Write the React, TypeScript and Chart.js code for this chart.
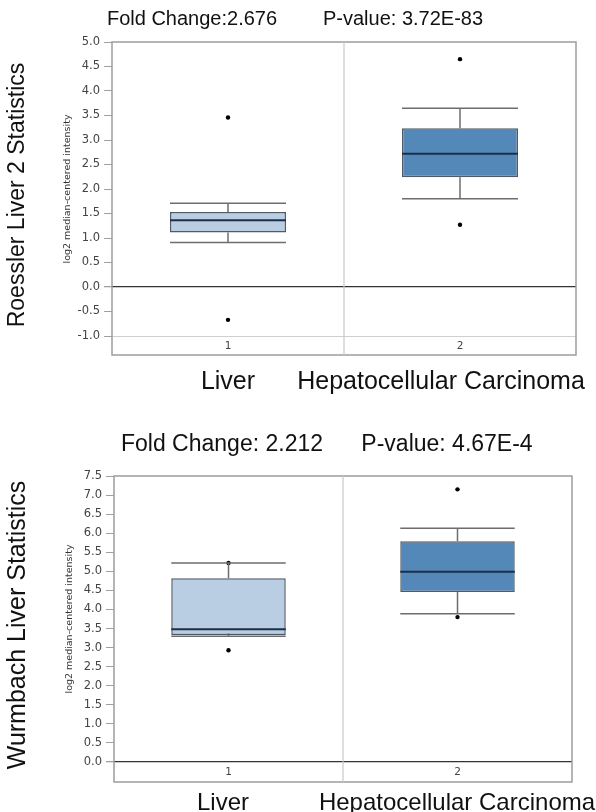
import React, { useEffect, useRef } from 'react';
import { Chart, registerables } from 'chart.js';

Chart.register(...registerables);

// ---------- shared ----------
const categories = ['1', '2'];
const groupNames = ['Liver', 'Hepatocellular Carcinoma'];
const boxFill = ['#b9cde3', '#5488b9'];

// ---------- Roessler Liver 2 ----------
const rSide = 'Roessler Liver 2 Statistics';
const rFold = 'Fold Change:2.676';
const rPval = 'P-value: 3.72E-83';
const rQ1 = [1.11, 2.24];
const rQ3 = [1.53, 3.24];
const rMedian = [1.36, 2.72];
const rWhiskerLow = [0.91, 1.8];
const rWhiskerHigh = [1.71, 3.65];
const rOutlierHigh = [3.46, 4.65];
const rOutlierLow = [-0.67, 1.27];
const rExtra: (number | null)[] = [null, null];
const rYMin = -1.0;
const rYMax = 5.0;

// ---------- Wurmbach Liver ----------
const wSide = 'Wurmbach Liver Statistics';
const wFold = 'Fold Change: 2.212';
const wPval = 'P-value: 4.67E-4';
const wQ1 = [3.33, 4.46];
const wQ3 = [4.82, 5.79];
const wMedian = [3.48, 4.99];
const wWhiskerLow = [3.3, 3.89];
const wWhiskerHigh = [5.22, 6.13];
const wOutlierHigh = [5.22, 7.15];
const wOutlierLow = [2.93, 3.8];
const wExtra: (number | null)[] = [3.35, null];
const wYMin = 0.0;
const wYMax = 7.5;

const yStep = 0.5;
const axisTitle = 'log2 median-centered intensity';

const SANS = '"Liberation Sans", Arial, sans-serif';
const TICKF = '"DejaVu Sans", Verdana, sans-serif';

type Layout = {
  top: number;
  width: number;
  height: number;
  padLeft: number;
  axisWidth: number;
  padTop: number;
  padRight: number;
  padBottom: number;
  bandHeight: number;
  titleY: number;
  titleSize: number;
  foldX: number;
  pvalX: number;
  sideX: number;
  sideY: number;
  sideSize: number;
  bottomY: number;
  bottomSize: number;
  bottomX: number[];
};

type Props = {
  layout: Layout;
  side: string;
  fold: string;
  pval: string;
  q1: number[];
  q3: number[];
  median: number[];
  whiskerLow: number[];
  whiskerHigh: number[];
  outlierHigh: number[];
  outlierLow: number[];
  extra: (number | null)[];
  yMin: number;
  yMax: number;
};

function BoxChart(p: Props) {
  const ref = useRef<HTMLCanvasElement | null>(null);
  useEffect(() => {
    const canvas = ref.current;
    if (!canvas) return;
    const L = p.layout;

    const extras = {
      id: 'boxExtras',
      afterDatasetsDraw(chart: any) {
        const ctx = chart.ctx;
        const x = chart.scales.x;
        const y = chart.scales.y;
        const meta = chart.getDatasetMeta(0);
        ctx.save();
        for (let i = 0; i < categories.length; i++) {
          const bar = meta.data[i] as any;
          const cx = x.getPixelForValue(i);
          const half = bar.width / 2;
          ctx.strokeStyle = '#6d6d6d';
          ctx.lineWidth = 1.5;
          ctx.beginPath();
          ctx.moveTo(cx, y.getPixelForValue(p.q3[i]));
          ctx.lineTo(cx, y.getPixelForValue(p.whiskerHigh[i]));
          ctx.moveTo(cx - half, y.getPixelForValue(p.whiskerHigh[i]));
          ctx.lineTo(cx + half, y.getPixelForValue(p.whiskerHigh[i]));
          ctx.moveTo(cx, y.getPixelForValue(p.q1[i]));
          ctx.lineTo(cx, y.getPixelForValue(p.whiskerLow[i]));
          ctx.moveTo(cx - half, y.getPixelForValue(p.whiskerLow[i]));
          ctx.lineTo(cx + half, y.getPixelForValue(p.whiskerLow[i]));
          ctx.stroke();
          ctx.strokeStyle = '#1d2f48';
          ctx.lineWidth = 2;
          ctx.beginPath();
          ctx.moveTo(cx - half, y.getPixelForValue(p.median[i]));
          ctx.lineTo(cx + half, y.getPixelForValue(p.median[i]));
          ctx.stroke();
        }
        ctx.restore();
      },
      afterDraw(chart: any) {
        const ctx = chart.ctx;
        const x = chart.scales.x;
        const a = chart.chartArea;
        ctx.save();
        ctx.strokeStyle = '#9d9d9d';
        ctx.lineWidth = 1.5;
        ctx.strokeRect(a.left, a.top, a.right - a.left, x.bottom - a.top);
        ctx.strokeStyle = '#c8c8c8';
        ctx.lineWidth = 1.2;
        const mid = (x.getPixelForValue(0) + x.getPixelForValue(1)) / 2;
        ctx.beginPath();
        ctx.moveTo(mid, a.top);
        ctx.lineTo(mid, x.bottom);
        ctx.stroke();
        ctx.fillStyle = '#111';
        ctx.textAlign = 'center';
        ctx.textBaseline = 'alphabetic';
        ctx.font = `${L.titleSize}px ${SANS}`;
        ctx.fillText(p.fold, L.foldX, L.titleY);
        ctx.fillText(p.pval, L.pvalX, L.titleY);
        ctx.font = `${L.bottomSize}px ${SANS}`;
        for (let i = 0; i < groupNames.length; i++) {
          ctx.fillText(groupNames[i], L.bottomX[i], L.bottomY);
        }
        ctx.translate(L.sideX, L.sideY);
        ctx.rotate(-Math.PI / 2);
        ctx.textBaseline = 'middle';
        ctx.font = `${L.sideSize}px ${SANS}`;
        ctx.fillText(p.side, 0, 0);
        ctx.restore();
      },
    };

    const pointDs = (data: (number | null)[], r: number) =>
      ({
        type: 'line',
        data,
        showLine: false,
        pointRadius: r,
        pointBackgroundColor: '#000',
        pointBorderWidth: 0,
      } as any);

    const chart = new Chart(canvas, {
      type: 'bar',
      data: {
        labels: categories,
        datasets: [
          {
            type: 'bar',
            data: categories.map((_, i) => [p.q1[i], p.q3[i]]) as any,
            backgroundColor: boxFill,
            borderColor: '#4f5b66',
            borderWidth: 1.5,
            borderSkipped: false,
            barPercentage: 0.5,
            categoryPercentage: 1,
          } as any,
          pointDs(p.outlierHigh, 2.2),
          pointDs(p.outlierLow, 2.2),
          pointDs(p.extra, 1),
        ],
      },
      options: {
        responsive: false,
        animation: false,
        events: [],
        layout: {
          padding: { left: L.padLeft, top: L.padTop, right: L.padRight, bottom: L.padBottom },
        },
        plugins: { legend: { display: false }, tooltip: { enabled: false }, title: { display: false } },
        scales: {
          x: {
            grid: { display: false, drawTicks: false },
            border: { display: false },
            ticks: { color: '#444', font: { family: TICKF, size: 10.5 }, padding: 4 },
            afterFit: (s: any) => {
              s.height = L.bandHeight;
            },
          },
          y: {
            min: p.yMin,
            max: p.yMax,
            border: { display: false },
            ticks: {
              stepSize: yStep,
              color: '#444',
              font: { family: TICKF, size: 11.5 },
              padding: 4,
              callback: (v: any) => Number(v).toFixed(1),
            },
            grid: {
              tickLength: 8,
              tickColor: '#a0a0a0',
              lineWidth: (c: any) => (c.tick && c.tick.value === 0 ? 1.3 : 1),
              color: (c: any) => {
                if (!c.tick) return 'rgba(0,0,0,0)';
                if (c.tick.value === 0) return '#333';
                if (c.tick.value === p.yMin) return '#cfcfcf';
                return 'rgba(0,0,0,0)';
              },
            },
            title: {
              display: true,
              text: axisTitle,
              color: '#333',
              font: { family: TICKF, size: 9.5 },
              padding: { top: 4, bottom: 4 },
            },
            afterFit: (s: any) => {
              s.width = L.axisWidth;
            },
          },
        },
      },
      plugins: [extras],
    });
    return () => chart.destroy();
  }, []);
  const L = p.layout;
  return (
    <canvas
      ref={ref}
      width={L.width}
      height={L.height}
      style={{ position: 'absolute', left: 0, top: L.top, width: L.width, height: L.height, display: 'block' }}
    />
  );
}

const layout1: Layout = {
  top: 0,
  width: 596,
  height: 400,
  padLeft: 58,
  axisWidth: 54,
  padTop: 42,
  padRight: 20,
  padBottom: 45,
  bandHeight: 19,
  titleY: 25,
  titleSize: 20,
  foldX: 192,
  pvalX: 403,
  sideX: 18,
  sideY: 195,
  sideSize: 23,
  bottomY: 389,
  bottomSize: 25,
  bottomX: [228, 441],
};

const layout2: Layout = {
  top: 400,
  width: 596,
  height: 412,
  padLeft: 60,
  axisWidth: 54,
  padTop: 76,
  padRight: 24,
  padBottom: 30,
  bandHeight: 20,
  titleY: 51,
  titleSize: 23,
  foldX: 222,
  pvalX: 447,
  sideX: 18,
  sideY: 225,
  sideSize: 25,
  bottomY: 410,
  bottomSize: 24,
  bottomX: [223, 457],
};

export default function App() {
  return (
    <div style={{ position: 'absolute', left: 0, top: 0, width: 596, height: 812, background: '#fff' }}>
      <BoxChart
        layout={layout1}
        side={rSide}
        fold={rFold}
        pval={rPval}
        q1={rQ1}
        q3={rQ3}
        median={rMedian}
        whiskerLow={rWhiskerLow}
        whiskerHigh={rWhiskerHigh}
        outlierHigh={rOutlierHigh}
        outlierLow={rOutlierLow}
        extra={rExtra}
        yMin={rYMin}
        yMax={rYMax}
      />
      <BoxChart
        layout={layout2}
        side={wSide}
        fold={wFold}
        pval={wPval}
        q1={wQ1}
        q3={wQ3}
        median={wMedian}
        whiskerLow={wWhiskerLow}
        whiskerHigh={wWhiskerHigh}
        outlierHigh={wOutlierHigh}
        outlierLow={wOutlierLow}
        extra={wExtra}
        yMin={wYMin}
        yMax={wYMax}
      />
    </div>
  );
}
